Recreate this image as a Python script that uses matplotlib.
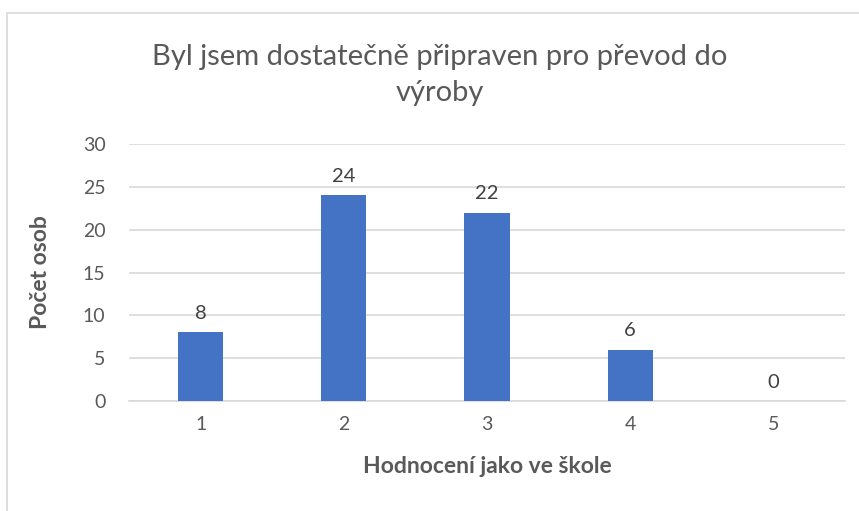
import matplotlib.pyplot as plt
from matplotlib.patches import Rectangle

categories = ['1', '2', '3', '4', '5']
values = [8, 24, 22, 6, 0]
title = 'Byl jsem dostatečně připraven pro převod do\nvýroby'
xlabel = 'Hodnocení jako ve škole'
ylabel = 'Počet osob'

plt.rcParams['font.family'] = ['Lato', 'DejaVu Sans']

fig = plt.figure(figsize=(8.59, 5.11), dpi=100)
W, H = 859, 511
ax = fig.add_axes([129 / W, 1 - 401 / H, (845 - 129) / W, (401 - 144) / H])

# chart frame
fig.patches.append(Rectangle((7 / W, -0.1), 1.2, 1 - 13 / H + 0.1, transform=fig.transFigure,
                             fill=False, edgecolor='#d9d9d9', linewidth=1.2))

x = range(len(categories))
bars = ax.bar(x, values, width=0.315, color='#4472c4', zorder=3)
for xi, v in zip(x, values):
    ax.text(xi, v + 1.2, str(v), ha='center', va='bottom', fontsize=14.5, color='#404040')

ax.set_xlim(-0.5, 4.5)
ax.set_ylim(0, 30)
ax.set_yticks(range(0, 31, 5))
ax.set_xticks(list(x))
ax.set_xticklabels(categories)
ax.grid(axis='y', color='#d9d9d9', linewidth=1.2, zorder=0)
for s in ['top', 'right', 'left']:
    ax.spines[s].set_visible(False)
ax.spines['bottom'].set_color('#d9d9d9')
ax.spines['bottom'].set_linewidth(1.2)
ax.tick_params(length=0, labelsize=14, labelcolor='#595959')
ax.tick_params(axis='x', pad=11)
ax.tick_params(axis='y', pad=17)

ax.set_xlabel(xlabel, fontsize=16.5, fontweight='bold', color='#595959', labelpad=16)
ax.set_ylabel(ylabel, fontsize=16.5, fontweight='bold', color='#595959', labelpad=23)

fig.text(440 / W, 1 - 75 / H, title, ha='center', va='center', fontsize=21,
         color='#595959', linespacing=1.5)

fig.savefig('out.png', dpi=100)
